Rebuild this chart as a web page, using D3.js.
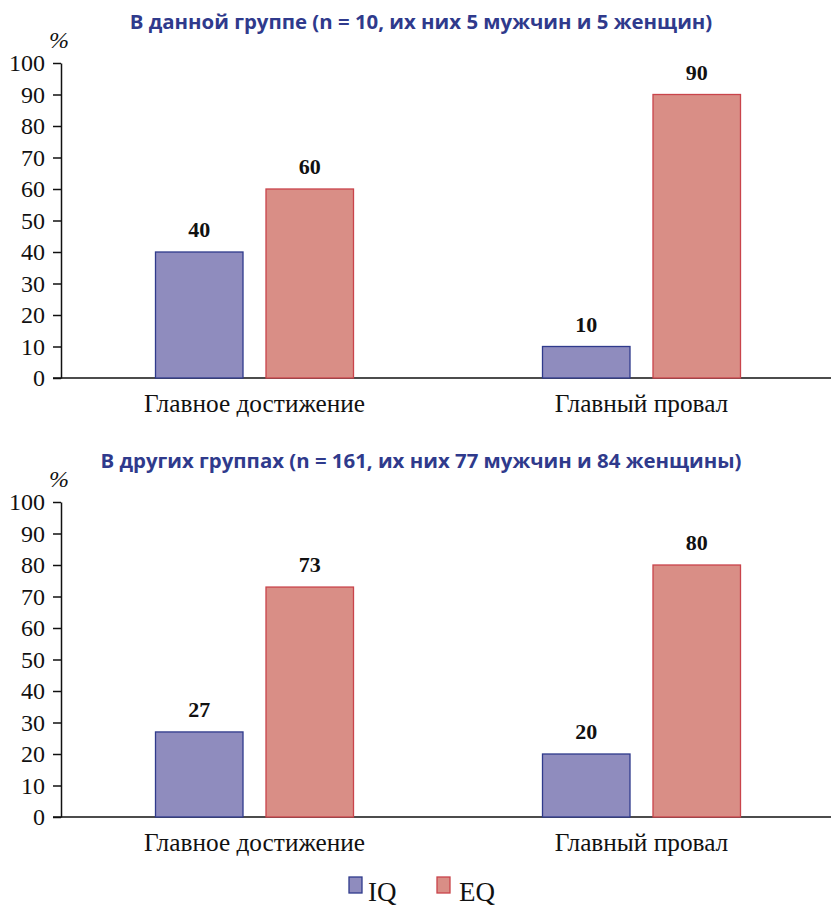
<!DOCTYPE html>
<html>
<head>
<meta charset="utf-8">
<script src="https://cdn.jsdelivr.net/npm/d3@7"></script>
<style>
  body { margin: 0; background: #fff; }
  svg { display: block; }
</style>
</head>
<body>
<svg id="chart" width="831" height="908"></svg>
<script>
// Categories and series
const categories = ["Главное достижение", "Главный провал"];
const seriesNames = ["IQ", "EQ"];

// Panel titles
const panelTitles = [
  "В данной группе (n = 10, их них 5 мужчин и 5 женщин)",
  "В других группах (n = 161, их них 77 мужчин и 84 женщины)"
];

// Percent values per category, for IQ and EQ
const groupIQ = [40, 10];
const groupEQ = [60, 90];
const otherIQ = [27, 20];
const otherEQ = [73, 80];

const yTicks = [0, 10, 20, 30, 40, 50, 60, 70, 80, 90, 100];

const colors = {
  IQ: { fill: "#8f8cbe", stroke: "#2f3a8c" },
  EQ: { fill: "#d98e86", stroke: "#c9444b" }
};

const svg = d3.select("#chart");
const serif = "'Liberation Serif', 'Times New Roman', serif";
const sans = "'Open Sans', 'Noto Sans', sans-serif";

const axisX = 61;
const plotRight = 831;

const x0 = d3.scaleBand().domain(categories).range([axisX, 835]);
const x1 = d3.scaleBand().domain(seriesNames).range([0, 198]).paddingInner(0.208);

function drawPanel(title, iq, eq, top, bottom, titleY, pctY) {
  const g = svg.append("g");
  const y = d3.scaleLinear().domain([0, 100]).range([bottom, top]);

  g.append("text")
    .attr("x", 421).attr("y", titleY)
    .attr("text-anchor", "middle")
    .style("font-family", sans).style("font-weight", "bold")
    .style("font-size", "20.4px").attr("fill", "#2f3a8c")
    .text(title);

  g.append("text")
    .attr("x", 59).attr("y", pctY)
    .attr("text-anchor", "middle")
    .style("font-family", serif).style("font-style", "italic")
    .style("font-size", "24px").attr("fill", "#111")
    .text("%");

  // y axis
  const yAxis = d3.axisLeft(y).tickValues(yTicks).tickSize(8).tickPadding(8).tickSizeOuter(0);
  const ya = g.append("g").attr("transform", `translate(${axisX},0)`).call(yAxis);
  ya.select(".domain").attr("stroke", "#111").attr("stroke-width", 1.5);
  ya.selectAll(".tick line").attr("stroke", "#111").attr("stroke-width", 1.5);
  ya.selectAll(".tick text")
    .style("font-family", serif).style("font-size", "24px").attr("fill", "#111");

  // x axis baseline
  const xAxis = d3.axisBottom(x0).tickSize(0).tickPadding(16);
  const xa = g.append("g").attr("transform", `translate(0,${bottom})`).call(xAxis);
  xa.select(".domain").attr("d", `M${axisX - 8},0H${plotRight}`)
    .attr("stroke", "#111").attr("stroke-width", 1.5);
  xa.selectAll(".tick text")
    .style("font-family", serif).style("font-size", "25.3px").attr("fill", "#111");

  const rows = categories.map((c, i) => ({ cat: c, vals: [
    { s: "IQ", v: iq[i] }, { s: "EQ", v: eq[i] }
  ]}));

  const groups = g.selectAll(".grp").data(rows).enter().append("g")
    .attr("transform", d => `translate(${x0(d.cat) + x0.bandwidth() / 2 - 99},0)`);

  groups.selectAll("rect").data(d => d.vals).enter().append("rect")
    .attr("x", d => x1(d.s))
    .attr("y", d => y(d.v))
    .attr("width", x1.bandwidth())
    .attr("height", d => bottom - y(d.v))
    .attr("fill", d => colors[d.s].fill)
    .attr("stroke", d => colors[d.s].stroke)
    .attr("stroke-width", 1.3);

  groups.selectAll("text.val").data(d => d.vals).enter().append("text")
    .attr("class", "val")
    .attr("x", d => x1(d.s) + x1.bandwidth() / 2)
    .attr("y", d => y(d.v) - 15)
    .attr("text-anchor", "middle")
    .style("font-family", serif).style("font-weight", "bold")
    .style("font-size", "22px").attr("fill", "#111")
    .text(d => d.v);
}

drawPanel(panelTitles[0], groupIQ, groupEQ, 63, 378, 29, 48);
drawPanel(panelTitles[1], otherIQ, otherEQ, 502, 817, 468, 487);

// Legend
const legend = svg.append("g");
const legendPos = { IQ: [349, 368], EQ: [437, 459] };
seriesNames.forEach(s => {
  legend.append("rect")
    .attr("x", legendPos[s][0]).attr("y", 877)
    .attr("width", 13).attr("height", 16)
    .attr("fill", colors[s].fill).attr("stroke", colors[s].stroke).attr("stroke-width", 1.3);
  legend.append("text")
    .attr("x", legendPos[s][1]).attr("y", 901)
    .style("font-family", serif).style("font-size", "27px").attr("fill", "#111")
    .text(s);
});
</script>
</body>
</html>
